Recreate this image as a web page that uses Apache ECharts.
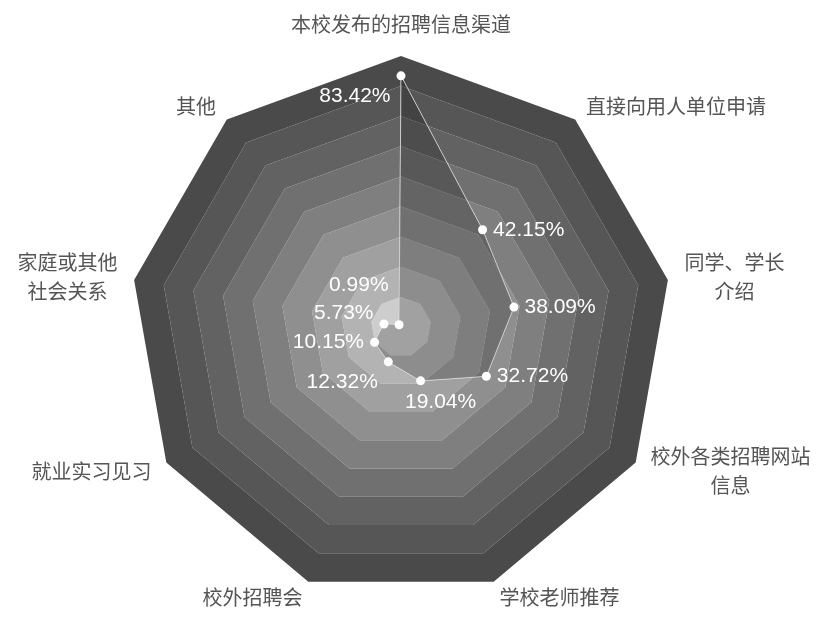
<!DOCTYPE html>
<html>
<head>
<meta charset="utf-8">
<script src="https://cdn.jsdelivr.net/npm/echarts@6/dist/echarts.min.js"></script>
<style>
html,body{margin:0;padding:0;background:#fff;}
#chart{width:825px;height:617px;}
</style>
</head>
<body>
<div id="chart"></div>
<script>
// Data (clockwise from top)
const categories = ['本校发布的招聘信息渠道', '直接向用人单位申请', '同学、学长\n介绍', '校外各类招聘网站\n信息', '学校老师推荐', '校外招聘会', '就业实习见习', '家庭或其他\n社会关系', '其他'];
const values = [83.42, 42.15, 38.09, 32.72, 19.04, 12.32, 10.15, 5.73, 0.99];
const axisMax = 90;

// label placement per category (style, not data)
const labelPlace = ['leftLow', 'right', 'right', 'right', 'below', 'leftLow', 'left', 'leftUp', 'leftTop'];
const placeStyles = {
  left: {position: 'left', offset: [0, 0]},
  leftLow: {position: 'left', offset: [0, 20]},
  leftUp: {position: 'left', offset: [0, -11]},
  leftTop: {position: 'left', offset: [0, -40]},
  right: {position: 'right', offset: [0, 0]},
  below: {position: 'bottom', offset: [20, 0]}
};

// ECharts places indicators counterclockwise; reorder to read clockwise
const order = [0].concat(categories.map((c, i) => i).slice(1).reverse());
const ecIndicators = order.map(i => ({name: categories[i], max: axisMax}));
const ecValues = order.map(i => values[i]);

const mainSeries = {
  type: 'radar',
  z: 2,
  symbol: 'circle',
  symbolSize: 9,
  itemStyle: {color: '#ffffff'},
  lineStyle: {color: '#e6e6e6', width: 1},
  areaStyle: {color: 'rgba(0,0,0,0.3)'},
  label: {show: false},
  data: [{value: ecValues}]
};

const labelSeries = Object.keys(placeStyles).map(key => {
  const shown = values.filter((v, i) => labelPlace[i] === key);
  const ps = placeStyles[key];
  return {
    type: 'radar',
    z: 5,
    silent: true,
    symbol: 'circle',
    symbolSize: 1,
    itemStyle: {color: 'rgba(0,0,0,0)'},
    lineStyle: {width: 0, opacity: 0},
    label: {
      show: true,
      position: ps.position,
      offset: ps.offset,
      distance: 10,
      color: '#ffffff',
      fontSize: 21,
      fontFamily: 'Liberation Sans, Arial, sans-serif',
      formatter: p => {
        const v = Array.isArray(p.value) ? null : p.value;
        return (v !== null && shown.indexOf(v) >= 0) ? v.toFixed(2) + '%' : '';
      }
    },
    data: [{value: ecValues}]
  };
});

const bandColors = ['#cdcdcd', '#b3b3b3', '#a0a0a0', '#8f8f8f', '#7f7f7f', '#707070', '#626262', '#565656', '#4a4a4a'];

const chart = echarts.init(document.getElementById('chart'));
chart.setOption({
  backgroundColor: '#ffffff',
  animation: false,
  radar: {
    center: [401, 327],
    radius: 271,
    startAngle: 90,
    splitNumber: 9,
    shape: 'polygon',
    indicator: ecIndicators,
    axisName: {
      color: '#555555',
      fontSize: 20,
      fontFamily: 'Noto Sans CJK SC',
      formatter: name => name.split('\n').map(s => '{a|' + s + '}').join('\n'),
      rich: {a: {align: 'center', fontSize: 20, lineHeight: 29, color: '#555555', fontFamily: 'Noto Sans CJK SC'}}
    },
    nameGap: 17,
    axisLine: {show: false},
    splitLine: {show: false},
    axisTick: {show: false},
    axisLabel: {show: false},
    splitArea: {show: true, areaStyle: {color: bandColors, opacity: 1}}
  },
  series: [mainSeries].concat(labelSeries)
});
</script>
</body>
</html>
